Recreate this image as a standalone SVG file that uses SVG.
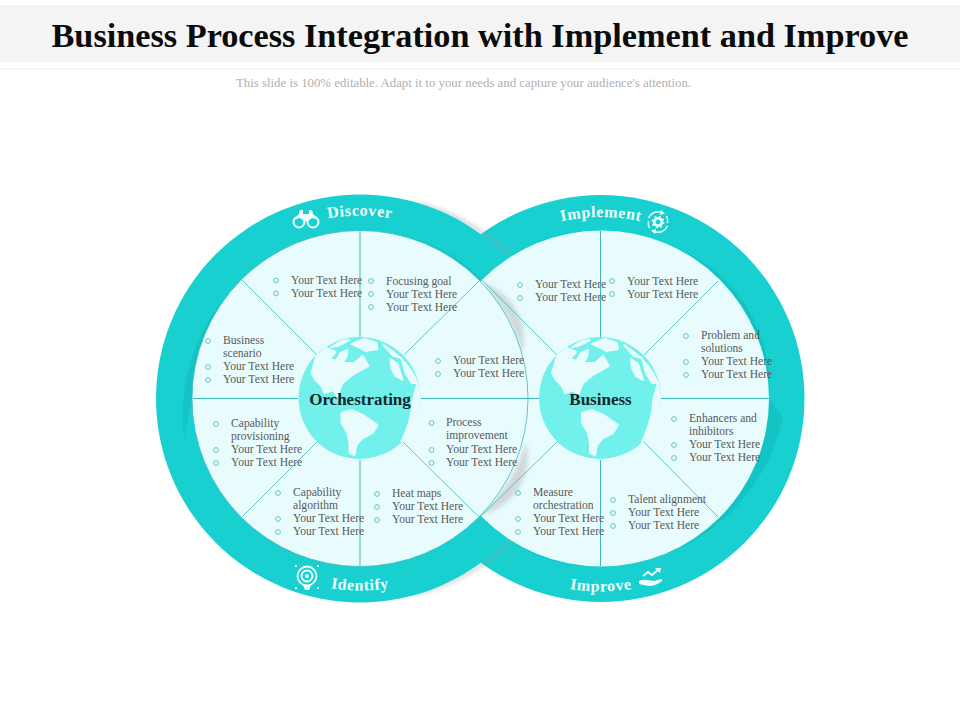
<svg xmlns="http://www.w3.org/2000/svg" xmlns:xlink="http://www.w3.org/1999/xlink" width="960" height="720" viewBox="0 0 960 720">
<style>
text{font-family:"Liberation Serif","DejaVu Serif",serif}
.t{font-size:11.6px;fill:#595959}
.b{fill:none;stroke:#62c4c6;stroke-width:1}
.ring{fill:#19d0d0}
.cres{fill:#14c3c4}
.disc{fill:#e8fcfd}
.land{fill:#e8fcfd;stroke:#e8fcfd;stroke-width:2;stroke-linejoin:round}
.sp{stroke:#3fb9bb;stroke-width:1;fill:none}
.d{stroke-width:.8}
.cap{font-size:16px;font-weight:bold;fill:#eefefe;letter-spacing:.6px;text-anchor:middle}
.hub{font-size:17px;font-weight:bold;fill:#12262b;text-anchor:middle}
.ic{fill:#f2fefe}
.icl{fill:none;stroke:#f2fefe}
</style>
<defs>
<filter id="blur" x="-30%" y="-30%" width="160%" height="160%"><feGaussianBlur stdDeviation="2"/></filter>
<path id="pDisc" d="M177 398.5A183 183 0 0 1 543 398.5"/>
<path id="pImpl" d="M419.5 398.5A181.500 181.500 0 0 1 782.500 398.5"/>
<path id="pIden" d="M168 398.5A192 192 0 0 0 552 398.5"/>
<path id="pImpr" d="M408 398.5A193 193 0 0 0 794 398.5"/>
<g id="globe">
<circle r="61" fill="#71f0ec"/>
<path class="land" d="M-48 -25L-43 -42L-33 -50L-24 -46L-30 -39L-16 -35L-5 -35L3 -42L9 -32L-7 -23L-17 -15L-20 -8L-22 -1L-26 -8L-35 -5L-38 -12L-44 -18Z"/>
<path class="land" d="M-8 -54L5 -59L17 -55L18 -49L6 -47L-1 -51Z"/>
<path class="land" d="M-23 -38L-19 -45L-12 -48L-13 -41L-17 -35Z"/>
<path class="land" d="M-18 15L-8 12L5 18L18 27L13 35L3 40L-3 47L-5 57L-10 55L-10 45L-12 35L-18 25Z"/>
<path class="land" d="M24 -53Q60 -30 60 0Q60 30 42 44Q53 20 53 3L58 -15L52 -15L46 -25L42 -40L34 -42Z"/>
<path class="land" d="M31 -39L38 -34L43 -18L36 -22L32 -30Z"/>
<path class="land" d="M-28 -51L-18 -57L-10 -58L-22 -52Z"/>
</g>
</defs>
<g id="header">
<rect x="0" y="5" width="960" height="57" fill="#f4f4f4"/>
<rect x="0" y="68" width="960" height="1.500" fill="#f1f1f1"/>
<text x="480" y="47" text-anchor="middle" font-size="34" font-weight="bold" fill="#0b0b0b" textLength="857" lengthAdjust="spacingAndGlyphs">Business Process Integration with Implement and Improve</text>
<text x="463.500" y="87" text-anchor="middle" font-size="12" fill="#b0b0b0" textLength="455" lengthAdjust="spacingAndGlyphs">This slide is 100% editable. Adapt it to your needs and capture your audience's attention.</text>
</g>
<g id="ring-right">
<circle class="ring" cx="601" cy="398.5" r="203.500"/>
<path class="cres" d="M507 259A168 168 0 0 1 601 230.500A160 160 0 0 0 507 259Z"/>
<path class="cres" d="M670 245A168 168 0 0 1 769 400A150 150 0 0 0 670 245Z"/>
<path class="cres" d="M783 418A190 190 0 0 1 617 566A168 168 0 0 0 769 398.500Z"/>
<path class="cres" d="M505 537A168 168 0 0 0 600 566.500A150 150 0 0 1 505 537Z"/>
</g>
<g id="shadow-ring" filter="url(#blur)" fill="none" stroke="#8f9b9b" stroke-width="3" opacity=".5">
<path d="M415 203A207 207 0 0 1 510 255"/>
<path d="M415 594A207 207 0 0 0 510 542"/>
</g>
<g id="ring-left">
<circle class="ring" cx="360" cy="398.5" r="204"/>
<path class="cres" d="M184 438A185 185 0 0 1 360 230.500A168 168 0 0 0 192 398.500Z"/>
<path class="cres" d="M400 235A168 168 0 0 1 505 313A150 150 0 0 0 400 235Z"/>
<path class="cres" d="M200 440A168 168 0 0 0 320 562A160 160 0 0 1 200 440Z"/>
<path class="cres" d="M362 566.500A168 168 0 0 0 490 505A190 160 0 0 1 362 566.500Z"/>
</g>
<g id="disc-right">
<circle class="disc" cx="601" cy="398.5" r="168"/>
<g filter="url(#blur)" fill="#d0d9d9">
<path d="M481 282A168 168 0 0 1 522 355A60 60 0 0 0 481 282Z"/>
<path d="M481 515A168 168 0 0 0 526 442A60 60 0 0 1 481 515Z"/>
</g>
</g>
<g id="disc-left">
<circle class="disc" cx="360" cy="398.5" r="168" stroke="#3fb9bb" stroke-width=".8"/>
</g>
<g id="connectors">
<path class="sp" d="M360 231V337M360 460V566M193 398.500H298M421 398.500H528"/>
<path class="sp d" d="M242 280L317 355M480 280L404 355M242 517L317 442M480 518L403 442"/>
<path class="sp" d="M600.500 231V337M600.500 460V566M528 398.500H539M661 398.500H769"/>
<path class="sp d" d="M482 280L557 355M718 281L644 355M480 517L557 442M718 517L644 442"/>
</g>
<g id="globe-left"><use xlink:href="#globe" href="#globe" x="359.500" y="398"/></g>
<g id="globe-right"><use xlink:href="#globe" href="#globe" x="600" y="398"/></g>
<g id="discover">
<text class="cap"><textPath xlink:href="#pDisc" href="#pDisc" startOffset="50%">Discover</textPath></text>
<g transform="translate(306 219)">
<circle class="icl" cx="-7" cy="3" r="5.500" stroke-width="2"/><circle class="icl" cx="7" cy="3" r="5.500" stroke-width="2"/>
<path class="ic" d="M-13 1L-7 -5H7L13 1L6 -1L2 2H-2L-6 -1Z"/><path class="ic" d="M-7 -5L-6 -9H-3L-3 -5ZM3 -5L3 -9H6L7 -5Z"/>
</g>
</g>
<g id="implement">
<text class="cap"><textPath xlink:href="#pImpl" href="#pImpl" startOffset="50%">Implement</textPath></text>
<g transform="translate(658 222)">
<circle class="icl" r="3.800" stroke-width="2.600"/>
<circle class="icl" r="5.600" stroke-width="1.500" stroke-dasharray="2 2.400"/>
<path class="icl" stroke-width="1.500" d="M-9.500 -4A10.500 10.500 0 0 1 4 -9.500M9.500 4A10.500 10.500 0 0 1 -4 9.500M8.500 -6A10.500 10.500 0 0 1 9.500 1M-8.500 6A10.500 10.500 0 0 1 -9.500 -1"/>
<path class="ic" d="M3 -12L7 -8.500L2 -7ZM-3 12L-7 8.500L-2 7Z"/>
</g>
</g>
<g id="identify">
<text class="cap"><textPath xlink:href="#pIden" href="#pIden" startOffset="50%">Identify</textPath></text>
<g transform="translate(307 576)">
<circle class="icl" r="9.500" stroke-width="1.800"/><circle class="icl" r="5.500" stroke-width="1.800"/><circle class="ic" r="2"/>
<path class="ic" d="M-4 9H4L2 14H-2Z"/>
<path class="ic" d="M-12 -11h2v2h-2zM10 -11h2v2h-2zM-12 11h2v2h-2zM10 11h2v2h-2z"/>
</g>
</g>
<g id="improve">
<text class="cap"><textPath xlink:href="#pImpr" href="#pImpr" startOffset="50%">Improve</textPath></text>
<g transform="translate(651 578)">
<path class="ic" d="M-12 3Q-8 1 -4 2L3 3L10 1Q12 1 11 3Q5 8 -2 8Q-8 7 -12 6Z"/>
<path class="icl" stroke-width="1.800" d="M-8 -2L-3 -6L1 -3L7 -8"/>
<path class="ic" d="M4 -10L10 -10L9 -5Z"/>
</g>
</g>
<g id="hub-left"><text class="hub" x="360" y="405">Orchestrating</text></g>
<g id="hub-right"><text class="hub" x="600.500" y="405">Business</text></g>
<g id="list-1"><circle class="b" cx="276" cy="280.500" r="2.400"/><circle class="b" cx="276" cy="293.500" r="2.400"/><text class="t" x="291" y="283.500">Your Text Here</text><text class="t" x="291" y="296.500">Your Text Here</text></g>
<g id="list-2"><circle class="b" cx="371" cy="281" r="2.400"/><circle class="b" cx="371" cy="294" r="2.400"/><circle class="b" cx="371" cy="307" r="2.400"/><text class="t" x="386" y="284.500">Focusing goal</text><text class="t" x="386" y="297.500">Your Text Here</text><text class="t" x="386" y="310.500">Your Text Here</text></g>
<g id="list-3"><circle class="b" cx="208" cy="341" r="2.400"/><circle class="b" cx="208" cy="367" r="2.400"/><circle class="b" cx="208" cy="380" r="2.400"/><text class="t" x="223" y="344.200">Business</text><text class="t" x="223" y="357.200">scenario</text><text class="t" x="223" y="370.200">Your Text Here</text><text class="t" x="223" y="383.200">Your Text Here</text></g>
<g id="list-4"><circle class="b" cx="438" cy="361" r="2.400"/><circle class="b" cx="438" cy="374" r="2.400"/><text class="t" x="453" y="364.200">Your Text Here</text><text class="t" x="453" y="377.200">Your Text Here</text></g>
<g id="list-5"><circle class="b" cx="216" cy="424" r="2.400"/><circle class="b" cx="216" cy="450" r="2.400"/><circle class="b" cx="216" cy="463" r="2.400"/><text class="t" x="231" y="427.200">Capability</text><text class="t" x="231" y="440.200">provisioning</text><text class="t" x="231" y="453.200">Your Text Here</text><text class="t" x="231" y="466.200">Your Text Here</text></g>
<g id="list-6"><circle class="b" cx="431.500" cy="423" r="2.400"/><circle class="b" cx="431.500" cy="450" r="2.400"/><circle class="b" cx="431.500" cy="463" r="2.400"/><text class="t" x="446" y="426.200">Process</text><text class="t" x="446" y="439.200">improvement</text><text class="t" x="446" y="453.200">Your Text Here</text><text class="t" x="446" y="466.200">Your Text Here</text></g>
<g id="list-7"><circle class="b" cx="278" cy="493" r="2.400"/><circle class="b" cx="278" cy="519" r="2.400"/><circle class="b" cx="278" cy="532" r="2.400"/><text class="t" x="293" y="496.200">Capability</text><text class="t" x="293" y="509.200">algorithm</text><text class="t" x="293" y="522.200">Your Text Here</text><text class="t" x="293" y="535.200">Your Text Here</text></g>
<g id="list-8"><circle class="b" cx="377" cy="494" r="2.400"/><circle class="b" cx="377" cy="507" r="2.400"/><circle class="b" cx="377" cy="520" r="2.400"/><text class="t" x="392" y="497.200">Heat maps</text><text class="t" x="392" y="510.200">Your Text Here</text><text class="t" x="392" y="523.200">Your Text Here</text></g>
<g id="list-9"><circle class="b" cx="520" cy="285" r="2.400"/><circle class="b" cx="520" cy="298" r="2.400"/><text class="t" x="535" y="288">Your Text Here</text><text class="t" x="535" y="301">Your Text Here</text></g>
<g id="list-10"><circle class="b" cx="612" cy="281" r="2.400"/><circle class="b" cx="612" cy="294" r="2.400"/><text class="t" x="627" y="284.500">Your Text Here</text><text class="t" x="627" y="297.500">Your Text Here</text></g>
<g id="list-11"><circle class="b" cx="686" cy="336" r="2.400"/><circle class="b" cx="686" cy="362" r="2.400"/><circle class="b" cx="686" cy="375" r="2.400"/><text class="t" x="701" y="339.200">Problem and</text><text class="t" x="701" y="352.200">solutions</text><text class="t" x="701" y="365.200">Your Text Here</text><text class="t" x="701" y="378.200">Your Text Here</text></g>
<g id="list-12"><circle class="b" cx="674" cy="419" r="2.400"/><circle class="b" cx="674" cy="445" r="2.400"/><circle class="b" cx="674" cy="458" r="2.400"/><text class="t" x="689" y="422.200">Enhancers and</text><text class="t" x="689" y="435.200">inhibitors</text><text class="t" x="689" y="448.200">Your Text Here</text><text class="t" x="689" y="461.200">Your Text Here</text></g>
<g id="list-13"><circle class="b" cx="613" cy="500" r="2.400"/><circle class="b" cx="613" cy="513" r="2.400"/><circle class="b" cx="613" cy="526" r="2.400"/><text class="t" x="628" y="503">Talent alignment</text><text class="t" x="628" y="516">Your Text Here</text><text class="t" x="628" y="529">Your Text Here</text></g>
<g id="list-14"><circle class="b" cx="518" cy="493" r="2.400"/><circle class="b" cx="518" cy="519" r="2.400"/><circle class="b" cx="518" cy="532" r="2.400"/><text class="t" x="533" y="496.200">Measure</text><text class="t" x="533" y="509.200">orchestration</text><text class="t" x="533" y="522.200">Your Text Here</text><text class="t" x="533" y="535.200">Your Text Here</text></g>
</svg>
